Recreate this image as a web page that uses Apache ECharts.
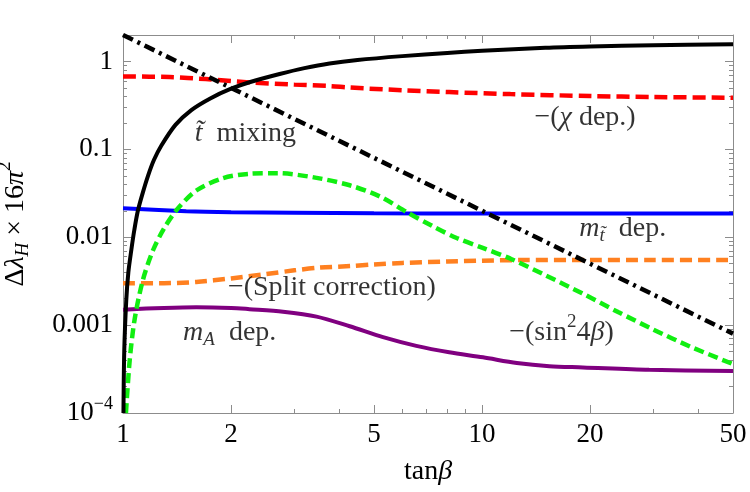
<!DOCTYPE html>
<html>
<head>
<meta charset="utf-8">
<script src="https://cdn.jsdelivr.net/npm/echarts@6/dist/echarts.min.js"></script>
<style>
html, body { margin: 0; padding: 0; background: #fff; }
#chart-container { width: 750px; height: 492px; }
</style>
</head>
<body>
<div id="chart-container"></div>
<script>
// tan(beta) / value pairs (log-log)
var stopMixingX = [1.003, 1.008, 1.021, 1.035, 1.055, 1.075, 1.1, 1.135, 1.174, 1.22, 1.278, 1.4, 1.55, 1.75, 2.0, 2.25, 2.73, 3.2, 3.76, 4.5, 6, 8, 10, 15, 20, 30, 50];
var stopMixingY = [1e-4, 5e-4, 1.9e-3, 4e-3, 7.2e-3, 0.012, 0.02, 0.032, 0.05, 0.076, 0.11, 0.19, 0.28, 0.38, 0.49, 0.58, 0.72, 0.84, 0.95, 1.04, 1.15, 1.25, 1.32, 1.43, 1.48, 1.53, 1.57];

var chiX = [1, 1.35, 1.7, 2.25, 3, 3.76, 4.28, 6, 8.1, 12, 20, 30, 50];
var chiY = [0.675, 0.665, 0.63, 0.578, 0.545, 0.525, 0.505, 0.47, 0.448, 0.425, 0.404, 0.394, 0.386];

var treeX = [1, 2, 5, 10, 20, 50];
var treeY = [2, 0.5, 0.08, 0.02, 0.005, 0.0008];

var stopMassX = [1, 1.5, 2, 3, 5, 10, 50];
var stopMassY = [0.0213, 0.0198, 0.0193, 0.019, 0.0187, 0.0186, 0.0186];

var sin4bX = [1.019, 1.044, 1.078, 1.137, 1.214, 1.3, 1.41, 1.6, 1.9, 2.25, 2.7, 3.4, 4.28, 5.2, 6.17, 7.3, 8.5, 10, 12, 15, 19, 24, 30, 38, 50];
var sin4bY = [1e-4, 4e-4, 1.18e-3, 3.3e-3, 7.2e-3, 0.0125, 0.0204, 0.034, 0.047, 0.0527, 0.0535, 0.048, 0.039, 0.029, 0.0193, 0.0133, 0.0098, 0.0076, 0.0057, 0.0037, 0.0023, 0.0014, 8.9e-4, 5.7e-4, 3.6e-4];

var splitX = [1, 1.3, 1.6, 2, 2.5, 3, 3.5, 4.3, 5, 6, 8, 10, 13, 20, 30, 50];
var splitY = [0.003, 0.003, 0.0031, 0.0034, 0.0038, 0.0042, 0.0045, 0.0047, 0.0049, 0.0051, 0.0053, 0.0054, 0.0055, 0.0055, 0.0055, 0.0055];

var mAX = [1, 1.3, 1.6, 2, 2.25, 2.79, 3.46, 4.28, 5.3, 6.56, 8.1, 10.06, 12.5, 15.4, 19.1, 29.2, 50];
var mAY = [0.0015, 0.00157, 0.0016, 0.00157, 0.00152, 0.00142, 0.00125, 0.00097, 0.00073, 0.00058, 0.00049, 0.00043, 0.00037, 0.00034, 0.00033, 0.00031, 0.0003];

var xMajorTicks = [1, 2, 5, 10, 20, 50];
var xMinorTicks = [3, 4, 6, 7, 8, 9, 30, 40];
var yMajorTicks = [1e-4, 1e-3, 0.01, 0.1, 1];
var yMinorTicks = [];
[1e-4, 1e-3, 0.01, 0.1, 1].forEach(function (d) {
  for (var k = 2; k <= 9; k++) {
    if (d * k <= 2) yMinorTicks.push(d * k);
  }
});

// annotations: text, tan(beta), value at the left/middle of the text
var noteTexts = ['{it|t\u0303}  mixing', '\u2212({it|\u03c7} dep.)', '{it|m}{sub|t\u0303}  dep.', '\u2212(Split correction)', '{it|m}{sub|A}  dep.', '\u2212(sin{sup|2}4{it|\u03b2})'];
var noteX = [1.585, 14.0, 18.65, 1.96, 1.47, 11.9];
var noteY = [0.152, 0.231, 0.0125, 0.00268, 0.00082, 0.00083];

function pairs(xs, ys) {
  return xs.map(function (x, i) { return [x, ys[i]]; });
}

var serif = 'Liberation Serif';
var frameColor = '#8c8c8c';
var richText = {
  it: { fontFamily: serif, fontStyle: 'italic', fontSize: 28, color: '#000' },
  sub: { fontFamily: serif, fontStyle: 'italic', fontSize: 19, color: '#000', padding: [14, 0, 0, 0] },
  sup: { fontFamily: serif, fontSize: 19, color: '#000', padding: [0, 0, 20, 0] }
};

function makeX(position, ticks, len, withLabels, withLine) {
  return {
    type: 'log',
    logBase: 10,
    min: 1,
    max: 50,
    position: position,
    axisLine: { show: withLine, lineStyle: { color: frameColor, width: 1 } },
    axisTick: { show: true, inside: true, length: len, customValues: ticks, lineStyle: { color: frameColor, width: 1 } },
    axisLabel: withLabels ? {
      show: true,
      customValues: ticks,
      margin: 8,
      fontFamily: serif,
      fontSize: 27,
      color: '#000',
      formatter: function (v) { return String(Math.round(v)); }
    } : { show: false },
    splitLine: { show: false },
    minorTick: { show: false }
  };
}

function makeY(position, ticks, len, withLabels, withLine) {
  return {
    type: 'log',
    logBase: 10,
    min: 1e-4,
    max: 2,
    position: position,
    axisLine: { show: withLine, lineStyle: { color: frameColor, width: 1 } },
    axisTick: { show: true, inside: true, length: len, customValues: ticks, lineStyle: { color: frameColor, width: 1 } },
    axisLabel: withLabels ? {
      show: true,
      customValues: ticks,
      margin: 10,
      fontFamily: serif,
      fontSize: 27,
      color: '#000',
      formatter: function (v) {
        var e = Math.round(Math.log10(v));
        if (e <= -4) return '{b|10}{sup|\u2212' + (-e) + '}';
        return String(Math.pow(10, e).toFixed(Math.max(0, -e)));
      },
      rich: {
        b: { fontFamily: serif, fontSize: 27, color: '#000' },
        sup: { fontFamily: serif, fontSize: 18, color: '#000', padding: [0, 0, 18, 0] }
      }
    } : { show: false },
    splitLine: { show: false },
    minorTick: { show: false }
  };
}

var xBottom = makeX('bottom', xMajorTicks, 8, true, true);
xBottom.name = 'tan{it|\u03b2}';
xBottom.nameLocation = 'middle';
xBottom.nameGap = 45;
xBottom.nameTextStyle = { fontFamily: serif, fontSize: 28, color: '#000', rich: richText };

var yLeft = makeY('left', yMajorTicks, 8, true, true);
yLeft.name = '\u0394{it|\u03bb}{sub|H} \u00d7 16{it|\u03c0}{sup|2}';
yLeft.nameLocation = 'middle';
yLeft.nameGap = 88;
yLeft.nameTextStyle = { fontFamily: serif, fontSize: 28, color: '#000', rich: richText };

var dom = document.getElementById('chart-container');
var myChart = echarts.init(dom, null, { renderer: 'canvas' });

function lineSeries(name, xs, ys, color, type, smooth, width) {
  return {
    name: name,
    type: 'line',
    xAxisIndex: 0,
    yAxisIndex: 0,
    data: pairs(xs, ys),
    showSymbol: false,
    symbol: 'none',
    smooth: smooth,
    clip: true,
    lineStyle: { color: color, width: width, type: type },
    z: 3
  };
}

var option = {
  animation: false,
  backgroundColor: '#fff',
  grid: { left: 123, right: 17, top: 35, bottom: 79, containLabel: false, outerBoundsMode: 'none' },
  xAxis: [
    xBottom,
    makeX('bottom', xMinorTicks, 4, false, false),
    makeX('top', xMajorTicks, 8, false, true),
    makeX('top', xMinorTicks, 4, false, false)
  ],
  yAxis: [
    yLeft,
    makeY('left', yMinorTicks, 4, false, false),
    makeY('right', yMajorTicks, 8, false, true),
    makeY('right', yMinorTicks, 4, false, false)
  ],
  series: [
    lineSeries('-(chi dep.)', chiX, chiY, '#ff0000', [13, 6], 0.3, 4.5),
    lineSeries('m_stop dep.', stopMassX, stopMassY, '#0000ff', 'solid', 0.3, 4),
    lineSeries('-(Split correction)', splitX, splitY, '#ff8020', [12, 6], 0.3, 4.5),
    lineSeries('m_A dep.', mAX, mAY, '#800080', 'solid', 0.3, 4),
    lineSeries('-(sin^2 4beta)', sin4bX, sin4bY, '#11ee11', [10, 5], 0.3, 4.5),
    lineSeries('tree', treeX, treeY, '#000000', [11, 5, 3, 5], false, 4.5),
    lineSeries('stop mixing', stopMixingX, stopMixingY, '#000000', 'solid', 0.3, 4),
    {
      name: 'notes',
      type: 'scatter',
      xAxisIndex: 0,
      yAxisIndex: 0,
      symbolSize: 0,
      silent: true,
      z: 5,
      data: noteTexts.map(function (t, i) {
        return {
          value: [noteX[i], noteY[i]],
          label: {
            show: true,
            position: 'right',
            distance: 0,
            formatter: t,
            fontFamily: serif,
            fontSize: 28,
            color: '#000',
            rich: richText
          }
        };
      })
    }
  ]
};

if (option && typeof option === 'object') {
  myChart.setOption(option, true);
}
</script>
</body>
</html>
